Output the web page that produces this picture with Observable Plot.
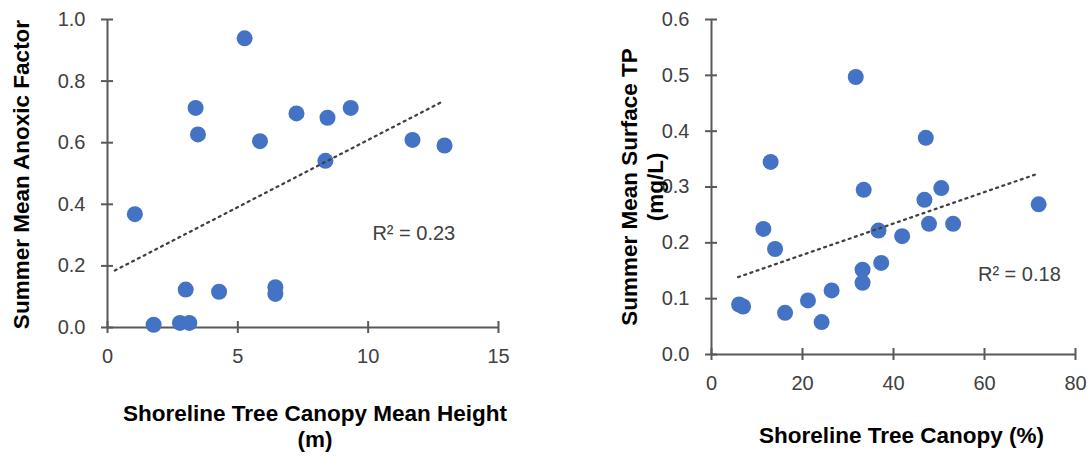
<!DOCTYPE html>
<html><head><meta charset="utf-8">
<script src="https://cdn.jsdelivr.net/npm/d3@7"></script>
<script src="https://cdn.jsdelivr.net/npm/@observablehq/plot@0.6"></script>
<style>
html,body{margin:0;padding:0;background:#fff;}
#wrap{display:flex;width:1092px;height:456px;overflow:hidden;}
#wrap svg{display:block;flex:none;}
</style></head><body><div id="wrap"></div>
<script>
// ---- Left panel data ----
const canopyHeight = [1.05, 1.77, 2.78, 3.14, 3.00, 3.38, 3.47, 4.28, 5.26, 5.85, 6.44, 6.44, 7.25, 8.44, 8.36, 9.33, 11.70, 12.93];
const anoxicFactor = [0.368, 0.009, 0.015, 0.015, 0.123, 0.713, 0.627, 0.116, 0.939, 0.605, 0.131, 0.109, 0.695, 0.681, 0.541, 0.713, 0.609, 0.591];
const trendLeftX = [0.28, 12.77];
const trendLeftY = [0.185, 0.730];
const r2LeftText = ["R² = 0.23"];
const r2LeftAt = [11.75, 0.304];
const xTicksLeft = [0, 5, 10, 15];
const yTicksLeft = [0, 0.2, 0.4, 0.6, 0.8, 1.0];
const xTitleLeft = "Shoreline Tree Canopy Mean Height\n(m)";
const yTitleLeft = "Summer Mean Anoxic Factor";

// ---- Right panel data ----
const canopyPct = [6.07, 6.94, 11.4, 13.0, 13.97, 16.17, 21.2, 24.2, 26.4, 31.7, 33.45, 33.2, 33.2, 36.7, 37.3, 41.9, 46.8, 47.1, 47.8, 50.5, 53.1, 71.9];
const surfaceTP = [0.0896, 0.086, 0.225, 0.345, 0.189, 0.0747, 0.0968, 0.058, 0.1147, 0.497, 0.295, 0.152, 0.1285, 0.222, 0.164, 0.212, 0.277, 0.388, 0.234, 0.298, 0.234, 0.269];
const trendRightX = [5.85, 71.06];
const trendRightY = [0.1386, 0.322];
const r2RightText = ["R² = 0.18"];
const r2RightAt = [67.66, 0.1434];
const xTicksRight = [0, 20, 40, 60, 80];
const yTicksRight = [0, 0.1, 0.2, 0.3, 0.4, 0.5, 0.6];
const xTitleRight = "Shoreline Tree Canopy (%)";
const yTitleRight = "Summer Mean Surface TP\n(mg/L)";

const FONT = "'Liberation Sans', Arial, Helvetica, sans-serif";
const AXIS = "#595959";
const TICKTXT = "#404040";
const fmt = d3.format(".1f");

function panel(o) {
  const pts = o.xs.map((x, i) => ({x, y: o.ys[i]}));
  const trend = o.tx.map((x, i) => ({x, y: o.ty[i]}));
  return Plot.plot({
    width: 546, height: 456,
    marginLeft: o.ml, marginRight: o.mr, marginTop: o.mt, marginBottom: o.mb,
    style: {fontFamily: FONT, fontSize: "20px", background: "white", color: TICKTXT, overflow: "visible"},
    x: {domain: o.xd},
    y: {domain: o.yd},
    marks: [
      Plot.ruleX([o.xd[0]], {stroke: AXIS, strokeWidth: 2}),
      Plot.ruleY([o.yd[0]], {stroke: AXIS, strokeWidth: 2}),
      // crossing tick marks
      Plot.axisY({ticks: o.yt, tickSize: 12, dx: 6, tickFormat: () => "", label: null, stroke: AXIS, strokeWidth: 2}),
      Plot.axisX({ticks: o.xt, tickSize: 12, dy: -6, tickFormat: () => "", label: null, stroke: AXIS, strokeWidth: 2}),
      // tick labels
      Plot.axisY({ticks: o.yt, tickSize: 0, tickPadding: 22, tickFormat: fmt, label: null, fill: TICKTXT, fontSize: 20}),
      Plot.axisX({ticks: o.xt, tickSize: 0, tickPadding: 21, tickFormat: d => String(d), label: null, fill: TICKTXT, fontSize: 20}),
      Plot.dot(pts, {x: "x", y: "y", r: 8, fill: "#4472C4", stroke: "none"}),
      Plot.line(trend, {x: "x", y: "y", stroke: "#404040", strokeWidth: 2.25, strokeDasharray: "2,4.5"}),
      Plot.text(o.r2Text, {x: () => o.r2At[0], y: () => o.r2At[1], text: d => d, fontSize: 20, fill: TICKTXT, textAnchor: "middle", lineAnchor: "middle"}),
      Plot.text([o.xTitle], {text: d => d, frameAnchor: "bottom", textAnchor: "middle", lineAnchor: "bottom", dx: o.xtdx, dy: o.xtdy, fontSize: 22.5, fontWeight: "bold", fill: "#000", lineHeight: 1.12}),
      Plot.text([o.yTitle], {text: d => d, frameAnchor: "left", textAnchor: "middle", rotate: -90, lineAnchor: "middle", dx: o.ytdx, dy: o.ytdy, fontSize: 22.5, fontWeight: "bold", fill: "#000", lineHeight: 1.16})
    ]
  });
}

const wrap = document.getElementById("wrap");
wrap.appendChild(panel({
  xs: canopyHeight, ys: anoxicFactor, tx: trendLeftX, ty: trendLeftY,
  r2Text: r2LeftText, r2At: r2LeftAt,
  xd: [0, 15], yd: [0, 1], xt: xTicksLeft, yt: yTicksLeft,
  ml: 107, mr: 48, mt: 19, mb: 129,
  xTitle: xTitleLeft, yTitle: yTitleLeft,
  xtdx: 12, xtdy: 119, ytdx: -87, ytdy: 1
}));
wrap.appendChild(panel({
  xs: canopyPct, ys: surfaceTP, tx: trendRightX, ty: trendRightY,
  r2Text: r2RightText, r2At: r2RightAt,
  xd: [0, 80], yd: [0, 0.6], xt: xTicksRight, yt: yTicksRight,
  ml: 165, mr: 17, mt: 19, mb: 102,
  xTitle: xTitleRight, yTitle: yTitleRight,
  xtdx: 8, xtdy: 88, ytdx: -70, ytdy: 0
}));
</script>
</body></html>
